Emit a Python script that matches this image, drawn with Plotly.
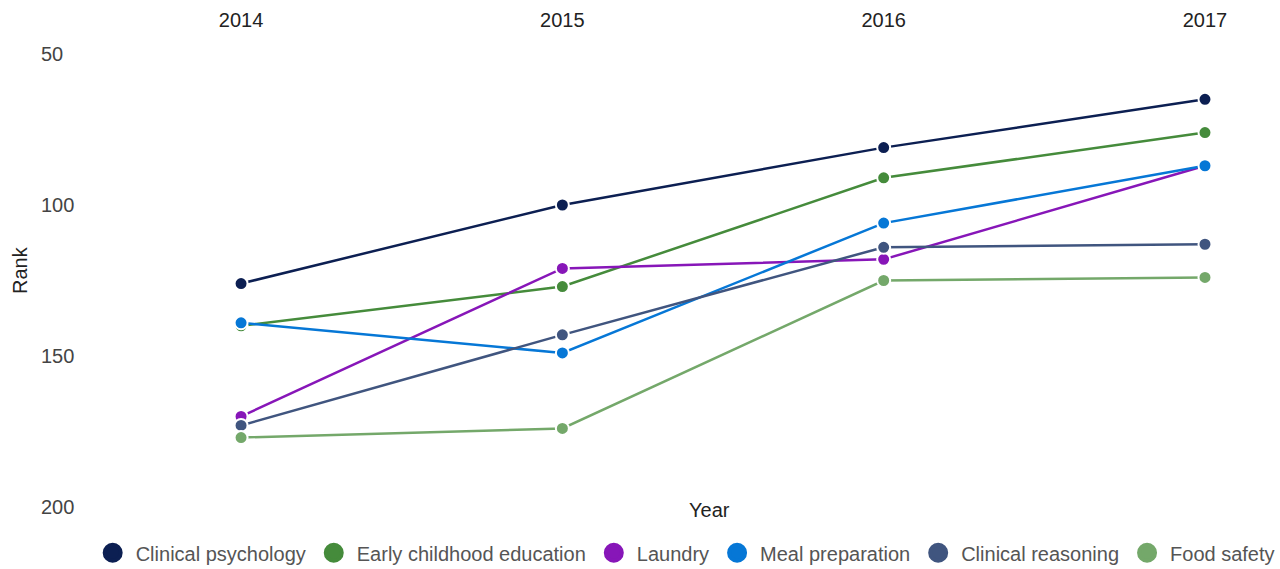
import plotly.graph_objects as go

years = [2014, 2015, 2016, 2017]
series_names = ["Clinical psychology", "Early childhood education", "Laundry",
                "Meal preparation", "Clinical reasoning", "Food safety"]
clinical_psychology = [126, 100, 81, 65]
early_childhood_education = [140, 127, 91, 76]
laundry = [170, 121, 118, 87]
meal_preparation = [139, 149, 106, 87]
clinical_reasoning = [173, 143, 114, 113]
food_safety = [177, 174, 125, 124]
series_values = [clinical_psychology, early_childhood_education, laundry,
                 meal_preparation, clinical_reasoning, food_safety]
colors = ["#0c1f52", "#458b3b", "#8716b8", "#0677d6", "#40557f", "#74a86a"]
y_ticks = [50, 100, 150, 200]

fig = go.Figure()
for name, vals, col in zip(series_names, series_values, colors):
    fig.add_trace(go.Scatter(
        x=years, y=vals, name=name, mode="lines+markers",
        line=dict(color=col, width=2.5),
        marker=dict(color=col, size=13, line=dict(color="white", width=2)),
        showlegend=False,
    ))
for name, col in zip(series_names, colors):
    fig.add_trace(go.Scatter(
        x=[None], y=[None], name=name, mode="markers",
        marker=dict(color=col, size=20, line=dict(color=col, width=4)),
        showlegend=True,
    ))

fig.update_layout(
    width=1280, height=569,
    margin=dict(l=38, r=40, t=54, b=62, autoexpand=False),
    paper_bgcolor="white", plot_bgcolor="white",
    font=dict(family="Liberation Sans, Arial, sans-serif", size=20, color="#222"),
    xaxis=dict(side="top", range=[2013.368, 2017.109], tickvals=years,
               showgrid=False, zeroline=False, showline=False, ticks="",
               ticklabelstandoff=22, automargin=False),
    yaxis=dict(range=[200, 50], tickvals=y_ticks, showgrid=False, zeroline=False,
               showline=False, ticks="", ticklabelposition="inside",
               ticklabeloverflow="allow", automargin=False),
    legend=dict(orientation="h", x=0.538, xanchor="center", y=-0.058, yanchor="top",
                font=dict(size=20, color="#555"), itemsizing="trace", itemwidth=36),
    annotations=[
        dict(text="Year", x=0.559, y=-0.007, xref="paper", yref="paper",
             xanchor="center", yanchor="middle", showarrow=False,
             font=dict(size=20, color="#222")),
        dict(text="Rank", x=-0.015, y=0.523, xref="paper", yref="paper",
             xanchor="center", yanchor="middle", showarrow=False, textangle=-90,
             font=dict(size=20, color="#222")),
    ],
)

fig.write_html("out.html", config={"displayModeBar": False},
               post_script="document.body.style.margin='0';")
